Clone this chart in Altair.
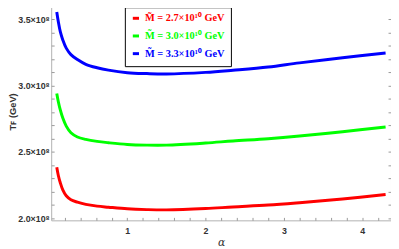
import altair as alt
import pandas as pd

alpha = [0.099, 0.119, 0.144, 0.176, 0.22, 0.28, 0.363, 0.47, 0.614, 0.759, 1.0, 1.25, 1.5, 2.0, 2.35, 2.8, 3.2, 3.75, 4.3]
blue = [3.555, 3.481, 3.407, 3.345, 3.283, 3.234, 3.197, 3.161, 3.135, 3.117, 3.098, 3.091, 3.088, 3.10, 3.116, 3.14, 3.172, 3.21, 3.246]
green = [2.941, 2.879, 2.817, 2.756, 2.695, 2.645, 2.613, 2.595, 2.58, 2.57, 2.557, 2.552, 2.552, 2.568, 2.583, 2.60, 2.62, 2.653, 2.689]
red = [2.385, 2.323, 2.268, 2.215, 2.17, 2.14, 2.122, 2.105, 2.092, 2.084, 2.072, 2.066, 2.064, 2.074, 2.086, 2.10, 2.118, 2.146, 2.18]

labels = ["M̃ = 2.7×10¹⁰ GeV", "M̃ = 3.0×10¹⁰ GeV", "M̃ = 3.3×10¹⁰ GeV"]
colors = ["#ff0000", "#00ff00", "#0000ff"]

rows = []
for lab, ser in zip(labels, [red, green, blue]):
    for a, v in zip(alpha, ser):
        rows.append({"alpha": a, "T": v * 1e8, "series": lab})
df = pd.DataFrame(rows)

xdom = [0.028, 4.369]
ydom = [1.985e8, 3.628e8]

x_minor = [round(0.2 * i, 1) for i in range(1, 22)]
y_minor = [v * 1e7 for v in range(20, 37)]

base = alt.Chart(df)

lines = base.mark_line(strokeWidth=3, interpolate="catmull-rom").encode(
    x=alt.X("alpha:Q", scale=alt.Scale(domain=xdom, nice=False, zero=False),
            axis=alt.Axis(title="α", values=[1, 2, 3, 4], labelFontWeight="bold",
                          labelFontSize=9, labelColor="#333", ticks=False, domain=False,
                          grid=False, titleFontStyle="italic", titleFontWeight="normal",
                          titleFontSize=11, titleColor="#333", labelPadding=6, titlePadding=2,
                          labelFont="Liberation Sans", titleFont="DejaVu Serif")),
    y=alt.Y("T:Q", scale=alt.Scale(domain=ydom, nice=False, zero=False),
            axis=alt.Axis(title="Tꜰ (GeV)", values=[2.0e8, 2.5e8, 3.0e8, 3.5e8],
                          labelExpr="format(datum.value/1e8, '.1f') + '×10⁸'",
                          labelFontWeight="bold", labelFontSize=9, labelColor="#333",
                          ticks=False, domain=False, grid=False, labelPadding=2,
                          titleFontWeight="bold", titleFontSize=9.5, titleColor="#333",
                          titleX=-39, titleY=111, titleAngle=270, titleAlign="center",
                          titleBaseline="middle",
                          labelFont="Liberation Sans", titleFont="Liberation Sans")),
    color=alt.Color("series:N", scale=alt.Scale(domain=labels, range=colors),
                    legend=alt.Legend(orient="none", legendX=75, legendY=5, title=None,
                                      strokeColor="black", fillColor="white", padding=6,
                                      symbolType="stroke", symbolStrokeWidth=3, symbolSize=40,
                                      labelFont="Liberation Serif", labelFontWeight="bold",
                                      labelFontSize=10.5, rowPadding=5, labelOffset=4,
                                      labelColor={"expr": "scale('color', datum.value)"})),
)

def tick_layer(orient, channel, vals):
    if channel == "x":
        enc = {"x": alt.X("alpha:Q", scale=alt.Scale(domain=xdom, nice=False, zero=False),
                          axis=alt.Axis(orient=orient, values=vals, labels=False, title=None,
                                        domain=False, grid=False, tickSize=3, offset=-3,
                                        tickColor="#999"))}
    else:
        enc = {"y": alt.Y("T:Q", scale=alt.Scale(domain=ydom, nice=False, zero=False),
                          axis=alt.Axis(orient=orient, values=vals, labels=False, title=None,
                                        domain=False, grid=False, tickSize=3, offset=-3,
                                        tickColor="#999"))}
    return base.mark_point(opacity=0).encode(**enc)

chart = alt.layer(
    lines,
    tick_layer("bottom", "x", x_minor),
    tick_layer("top", "x", x_minor),
    tick_layer("left", "y", y_minor),
    tick_layer("right", "y", y_minor),
).resolve_axis(x="independent", y="independent").properties(
    width=346, height=222,
    autosize=alt.AutoSizeParams(type="none"),
    padding={"left": 44, "top": -8, "right": 0, "bottom": 30},
).configure_view(stroke="#b0b0b0", strokeWidth=1)

chart.save("out.html", embed_options={"renderer": "svg", "actions": False})
